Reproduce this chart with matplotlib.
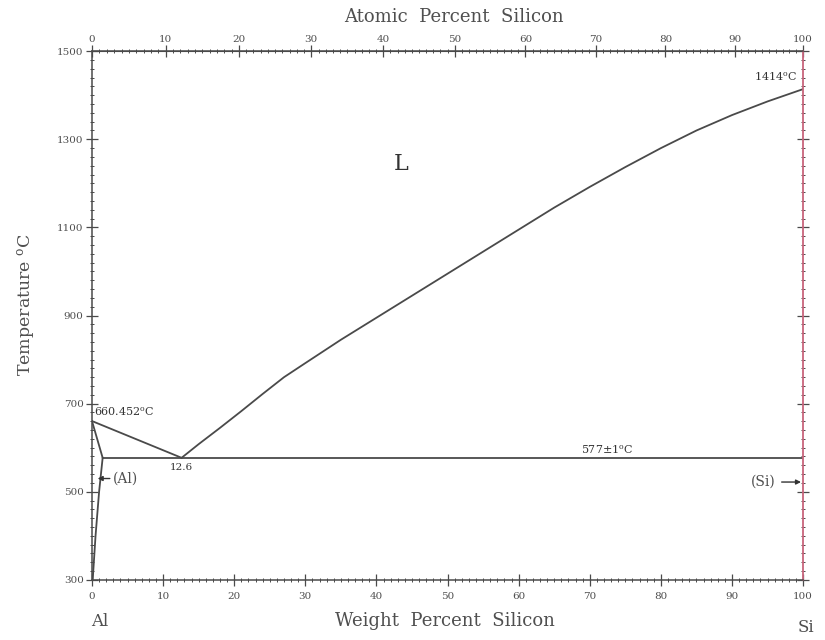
import numpy as np
import matplotlib.pyplot as plt
from matplotlib.ticker import MultipleLocator, FixedLocator

plt.rcParams['font.family'] = ['DejaVu Serif']
plt.rcParams['mathtext.fontset'] = 'dejavuserif'

# ── Data (weight percent Si, temperature in C) ───────────────────────
# liquidus on the Al side
liq_al_wt = [0.0, 12.6]
liq_al_t = [660.452, 577]

# liquidus on the Si side
liq_si_wt = [12.6, 15, 18, 21, 24, 27, 30, 35, 40, 45, 50, 55, 60, 65,
             70, 75, 80, 85, 90, 95, 100]
liq_si_t = [577, 608, 645, 683, 722, 760, 792, 845, 895, 945, 995, 1045,
            1095, 1145, 1192, 1237, 1280, 1320, 1355, 1386, 1414]

# solidus of (Al)
sol_wt = [0.0, 1.5]
sol_t = [660.452, 577]

# solvus of (Al)
solv_wt = [1.5, 1.0, 0.5, 0.1]
solv_t = [577, 500, 400, 300]

# eutectic isotherm
eut_wt = [1.5, 100]
eut_t = [577, 577]

# tick labels
temp_ticks = [300, 500, 700, 900, 1100, 1300, 1500]
pct_ticks = [0, 10, 20, 30, 40, 50, 60, 70, 80, 90, 100]

LINE = "#4a4a4a"
TEXT = "#4f4f4f"


def wt_to_at(w):
    w = np.asarray(w, dtype=float)
    with np.errstate(divide="ignore", invalid="ignore"):
        n_si = w / 28.086
        n_al = (100 - w) / 26.982
        return 100 * n_si / (n_si + n_al)


def at_to_wt(a):
    a = np.asarray(a, dtype=float)
    with np.errstate(divide="ignore", invalid="ignore"):
        m_si = a * 28.086
        m_al = (100 - a) * 26.982
        return 100 * m_si / (m_si + m_al)


fig = plt.figure(figsize=(8.25, 6.4), dpi=100)
ax = fig.add_axes([0.1115, 0.094, 0.862, 0.826])

ax.plot(liq_al_wt, liq_al_t, color=LINE, lw=1.3)
ax.plot(liq_si_wt, liq_si_t, color=LINE, lw=1.3)
ax.plot(sol_wt, sol_t, color=LINE, lw=1.3)
ax.plot(solv_wt, solv_t, color=LINE, lw=1.3)
ax.plot(eut_wt, eut_t, color=LINE, lw=1.3)

ax.set_xlim(0, 100)
ax.set_ylim(300, 1500)

# ── Ticks ─────────────────────────────────────────────────────────────
ax.xaxis.set_major_locator(FixedLocator(pct_ticks))
ax.xaxis.set_minor_locator(MultipleLocator(1))
ax.yaxis.set_major_locator(FixedLocator(temp_ticks))
ax.yaxis.set_minor_locator(MultipleLocator(20))
ax.yaxis.set_ticks_position("both")
ax.tick_params(which="major", direction="inout", length=8, width=0.9,
               color=LINE, labelsize=7.5, labelcolor=TEXT, pad=2)
ax.tick_params(which="minor", direction="inout", length=3, width=0.7,
               color=LINE)
ax.tick_params(axis="x", which="major", pad=5)

for side in ["left", "bottom", "top"]:
    ax.spines[side].set_color(LINE)
    ax.spines[side].set_linewidth(1.1)
ax.spines["right"].set_color("#c8647c")
ax.spines["right"].set_linewidth(1.3)

sec = ax.secondary_xaxis("top", functions=(wt_to_at, at_to_wt))
sec.xaxis.set_major_locator(FixedLocator(pct_ticks))
sec.xaxis.set_minor_locator(FixedLocator(np.arange(1, 100)))
sec.tick_params(which="major", direction="inout", length=8, width=0.9,
                color=LINE, labelsize=7.5, labelcolor=TEXT, pad=1)
sec.tick_params(which="minor", direction="inout", length=3, width=0.7,
                color=LINE)
sec.spines["top"].set_color(LINE)

# ── Annotations ───────────────────────────────────────────────────────
ax.text(0.3, 668, r"660.452$^{\rm o}$C", fontsize=8, color="#333333",
        ha="left", va="bottom")
ax.text(12.6, 566, "12.6", fontsize=7.5, color="#333333",
        ha="center", va="top")
ax.text(72.5, 580, r"577$\pm$1$^{\rm o}$C", fontsize=8, color="#333333",
        ha="center", va="bottom")
ax.text(99.2, 1428, r"1414$^{\rm o}$C", fontsize=8, color="#333333",
        ha="right", va="bottom")
ax.text(43.5, 1243, "L", fontsize=16, color="#333333",
        ha="center", va="center")

ax.annotate("(Al)", xy=(0.8, 530), xytext=(2.9, 530), fontsize=10,
            color=TEXT, ha="left", va="center",
            arrowprops=dict(arrowstyle="-|>", color="#333333", lw=1,
                            mutation_scale=7, shrinkA=0, shrinkB=0))
ax.annotate("(Si)", xy=(99.7, 522), xytext=(96.2, 522), fontsize=10,
            color=TEXT, ha="right", va="center",
            arrowprops=dict(arrowstyle="-|>", color="#333333", lw=1,
                            mutation_scale=7, shrinkA=2, shrinkB=0))

# ── Axis titles ───────────────────────────────────────────────────────
fig.text(454 / 825, 1 - 17 / 640, "Atomic  Percent  Silicon",
         fontsize=13, color=TEXT, ha="center", va="center")
fig.text(445 / 825, 1 - 621 / 640, "Weight  Percent  Silicon",
         fontsize=13, color=TEXT, ha="center", va="center")
fig.text(100 / 825, 1 - 621 / 640, "Al", fontsize=12, color=TEXT,
         ha="center", va="center")
fig.text(806 / 825, 1 - 627 / 640, "Si", fontsize=12, color=TEXT,
         ha="center", va="center")
fig.text(26 / 825, 1 - 305 / 640, r"Temperature $^{\rm o}$C",
         fontsize=12.5, color=TEXT, ha="center", va="center", rotation=90)

fig.savefig("out.png", dpi=100, facecolor="white")
